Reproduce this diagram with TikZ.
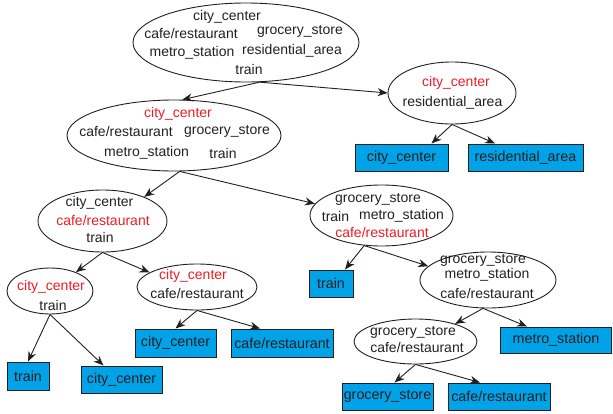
\documentclass[tikz,border=0pt]{standalone}
\usepackage{fontspec}
\setmainfont{Liberation Sans}
\usetikzlibrary{shapes.geometric,arrows.meta}
\definecolor{boxblue}{RGB}{0,162,232}
\definecolor{txtred}{RGB}{237,28,36}
\definecolor{txt}{RGB}{35,31,32}
\begin{document}
\begin{tikzpicture}[x=1pt,y=-1pt,
  ell/.style={ellipse,draw=txt,line width=0.9pt,inner sep=0pt},
  leaf/.style={draw=txt,fill=boxblue,line width=1pt,inner sep=0pt,text=txt,font=\fontsize{14.3}{16}\selectfont},
  lbl/.style={inner sep=0pt,text=txt,font=\fontsize{14}{16}\selectfont},
  hl/.style={lbl,text=txtred},
  arr/.style={-{Stealth[length=10pt,width=8pt]},line width=0.9pt,draw=txt}]
\useasboundingbox (0,0) rectangle (613,413);

% ellipses
\node[ell,minimum width=226pt,minimum height=79pt] (root) at (246,42.5) {};
\node[ell,minimum width=214pt,minimum height=71pt] (N1) at (174,135.5) {};
\node[ell,minimum width=128pt,minimum height=62pt] (N2) at (452,93) {};
\node[ell,minimum width=129pt,minimum height=62pt] (N3) at (102.5,221) {};
\node[ell,minimum width=143pt,minimum height=61pt] (N4) at (381.5,215.5) {};
\node[ell,minimum width=136pt,minimum height=56pt] (N5) at (488,280) {};
\node[ell,minimum width=86pt,minimum height=46pt] (N6) at (50,291) {};
\node[ell,minimum width=120pt,minimum height=46pt] (N7) at (197,287) {};
\node[ell,minimum width=123pt,minimum height=45pt] (N8) at (415.5,341.5) {};

% ellipse texts
\node[lbl] (r1) at (227,17) {city\_center};
\node[lbl] (r2) at (191,33) {cafe/restaurant};
\node[lbl] (r3) at (300,31) {grocery\_store};
\node[lbl] (r4) at (192,53) {metro\_station};
\node[lbl] (r5) at (292,51) {residential\_area};
\node[lbl] (r6) at (249,69) {train};

\node[hl] (a1) at (178,114) {city\_center};
\node[lbl] (a2) at (126,131) {cafe/restaurant};
\node[lbl] (a3) at (227,131) {grocery\_store};
\node[lbl] (a4) at (146.5,153) {metro\_station};
\node[lbl] (a5) at (223,153) {train};

\node[hl] (c1) at (456,83) {city\_center};
\node[lbl] (c2) at (452.5,103) {residential\_area};

\node[lbl] (d1) at (99.5,203) {city\_center};
\node[hl] (d2) at (103,220) {cafe/restaurant};
\node[lbl] (d3) at (100,237) {train};

\node[lbl] (e1) at (378,199) {grocery\_store};
\node[lbl] (e2) at (335.5,216) {train};
\node[lbl] (e3) at (401.5,216) {metro\_station};
\node[hl] (e4) at (382,232) {cafe/restaurant};

\node[lbl] (f1) at (483,260) {grocery\_store};
\node[lbl] (f2) at (487,275) {metro\_station};
\node[lbl] (f3) at (487,293) {cafe/restaurant};

\node[hl] (g1) at (51,287) {city\_center};
\node[lbl] (g2) at (53,305) {train};

\node[hl] (h1) at (193,276) {city\_center};
\node[lbl] (h2) at (197,293) {cafe/restaurant};

\node[lbl] (k1) at (413,332) {grocery\_store};
\node[lbl] (k2) at (417,347) {cafe/restaurant};

% leaves
\node[leaf,minimum width=93pt,minimum height=27pt] (b1) at (401.5,157.5) {city\_center};
\node[leaf,minimum width=115pt,minimum height=27pt] (b2) at (525.5,157.5) {residential\_area};
\node[leaf,minimum width=44pt,minimum height=27pt] (b3) at (331,283.5) {train};
\node[leaf,minimum width=42pt,minimum height=28pt] (b4) at (28,376) {train};
\node[leaf,minimum width=81pt,minimum height=27pt] (b5) at (121.5,379.5) {city\_center};
\node[leaf,minimum width=81pt,minimum height=28pt] (b6) at (175.5,343) {city\_center};
\node[leaf,minimum width=102pt,minimum height=28pt] (b7) at (282,343) {cafe/restaurant};
\node[leaf,minimum width=111pt,minimum height=26pt] (b8) at (556,340) {metro\_station};
\node[leaf,minimum width=91pt,minimum height=27pt] (b9) at (387.5,396.5) {grocery\_store};
\node[leaf,minimum width=102pt,minimum height=27pt] (b10) at (499,396.5) {cafe/restaurant};

% connectors
\draw[arr] (root.289) -- (N1.77);
\draw[arr] (root.289) -- (N2.west);
\draw[arr] (N2.south) -- ([xshift=30pt]b1.north);
\draw[arr] (N2.south) -- ([xshift=-30.5pt]b2.north);
\draw[arr] (N1.279) -- (N3.30);
\draw[arr] (N1.279) -- (N4.170);
\draw[arr] (N3.south) -- (N6.36);
\draw[arr] (N3.south) -- (N7.163);
\draw[arr] (N4.240) -- ([xshift=14pt]b3.north);
\draw[arr] (N4.240) -- (N5.167);
\draw[arr] (N6.south) -- (b4.north);
\draw[arr] (N6.south) -- ([xshift=-18pt]b5.north);
\draw[arr] (N7.south) -- (b6.north);
\draw[arr] (N7.south) -- ([xshift=-22pt]b7.north);
\draw[arr] (N5.260) -- (N8.24);
\draw[arr] (N5.260) -- ([xshift=-29pt]b8.north);
\draw[arr] (N8.south) -- ([xshift=7pt]b9.north);
\draw[arr] (N8.south) -- ([xshift=-19pt]b10.north);
\end{tikzpicture}
\end{document}
